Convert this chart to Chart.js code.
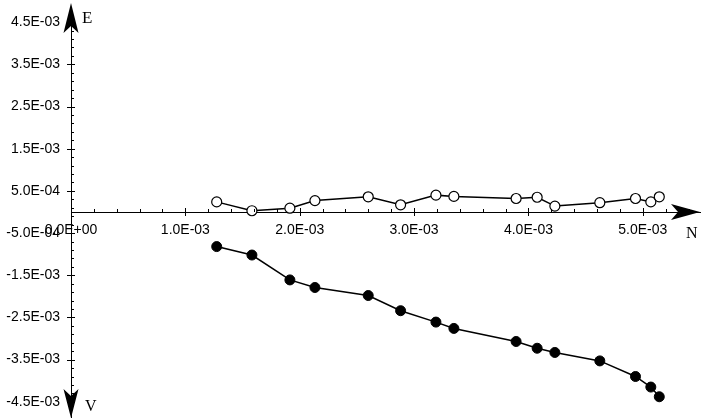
<!DOCTYPE html>
<html><head><meta charset="utf-8">
<script src="https://cdn.jsdelivr.net/npm/chart.js@4.4.1/dist/chart.umd.min.js"></script>
<style>html,body{margin:0;padding:0;background:#fff}</style>
</head><body>
<canvas id="c" width="701" height="420"></canvas>
<script>
// N values (x)
const nValues = [1.274e-3, 1.582e-3, 1.914e-3, 2.133e-3, 2.599e-3, 2.882e-3, 3.191e-3, 3.348e-3, 3.892e-3, 4.076e-3, 4.231e-3, 4.624e-3, 4.936e-3, 5.070e-3, 5.144e-3];
// E series (open circles)
const eValues = [0.24e-3, 0.03e-3, 0.09e-3, 0.27e-3, 0.36e-3, 0.17e-3, 0.40e-3, 0.37e-3, 0.32e-3, 0.35e-3, 0.14e-3, 0.22e-3, 0.32e-3, 0.24e-3, 0.36e-3];
// V series (filled circles)
const vValues = [-0.82e-3, -1.02e-3, -1.61e-3, -1.79e-3, -1.98e-3, -2.34e-3, -2.61e-3, -2.76e-3, -3.07e-3, -3.23e-3, -3.33e-3, -3.53e-3, -3.90e-3, -4.15e-3, -4.38e-3];

const xTickValues = [0, 1e-3, 2e-3, 3e-3, 4e-3, 5e-3];
const xTickLabels = ['0.0E+00', '1.0E-03', '2.0E-03', '3.0E-03', '4.0E-03', '5.0E-03'];
const yTickValues = [-4.5e-3, -3.5e-3, -2.5e-3, -1.5e-3, -0.5e-3, 0.5e-3, 1.5e-3, 2.5e-3, 3.5e-3, 4.5e-3];
const yTickLabels = ['-4.5E-03', '-3.5E-03', '-2.5E-03', '-1.5E-03', '-5.0E-04', '5.0E-04', '1.5E-03', '2.5E-03', '3.5E-03', '4.5E-03'];

const eData = nValues.map((x, i) => ({x: x, y: eValues[i]}));
const vData = nValues.map((x, i) => ({x: x, y: vValues[i]}));

const axisDecor = {
  id: 'axisDecor',
  afterDraw(chart) {
    const ctx = chart.ctx;
    const xs = chart.scales.x, ys = chart.scales.y;
    const x0 = xs.getPixelForValue(0);
    const y0 = ys.getPixelForValue(0);
    ctx.save();
    ctx.strokeStyle = '#000';
    ctx.fillStyle = '#000';
    ctx.lineWidth = 1;
    // major "+" ticks
    ctx.beginPath();
    yTickValues.forEach(v => { const p = Math.round(ys.getPixelForValue(v)) + 0.5; ctx.moveTo(x0 - 4, p); ctx.lineTo(x0 + 4, p); });
    xTickValues.forEach(v => { const p = Math.round(xs.getPixelForValue(v)) + 0.5; ctx.moveTo(p, y0 - 4); ctx.lineTo(p, y0 + 4); });
    ctx.stroke();
    // minor ticks
    ctx.beginPath();
    for (let k = 0; k <= 45; k++) {
      const v = -4.5e-3 + k * 0.2e-3;
      const p = Math.round(ys.getPixelForValue(v)) + 0.5;
      ctx.moveTo(x0, p); ctx.lineTo(x0 + 3, p);
    }
    for (let k = 1; k <= 27; k++) {
      const v = k * 0.2e-3;
      const p = Math.round(xs.getPixelForValue(v)) + 0.5;
      ctx.moveTo(p, y0 - 3); ctx.lineTo(p, y0);
    }
    ctx.stroke();
    // arrowheads
    const top = chart.chartArea.top, bottom = chart.chartArea.bottom, right = chart.chartArea.right;
    ctx.beginPath();
    ctx.moveTo(x0, top - 4); ctx.lineTo(x0 + 7.5, top + 26); ctx.lineTo(x0, top + 19); ctx.lineTo(x0 - 7.5, top + 26); ctx.closePath();
    ctx.moveTo(x0, bottom + 1); ctx.lineTo(x0 + 7.5, bottom - 28); ctx.lineTo(x0, bottom - 21); ctx.lineTo(x0 - 7.5, bottom - 28); ctx.closePath();
    ctx.moveTo(right, y0); ctx.lineTo(right - 29, y0 - 8); ctx.lineTo(right - 22, y0); ctx.lineTo(right - 29, y0 + 8); ctx.closePath();
    ctx.fill();
    // axis letters
    ctx.font = '17px "Liberation Serif", serif';
    ctx.textBaseline = 'alphabetic';
    ctx.textAlign = 'left';
    ctx.fillText('E', x0 + 11, 23);
    ctx.font = '16px "Liberation Serif", serif';
    ctx.fillText('V', x0 + 14, 411);
    ctx.fillText('N', 686, y0 + 26);
    ctx.restore();
  }
};

new Chart(document.getElementById('c'), {
  type: 'scatter',
  data: {
    datasets: [
      { label: 'E', data: eData, showLine: true, borderColor: '#000', borderWidth: 1.5,
        pointRadius: 5, pointBackgroundColor: '#fff', pointBorderColor: '#000', pointBorderWidth: 1.2, order: 1 },
      { label: 'V', data: vData, showLine: true, borderColor: '#000', borderWidth: 1.5,
        pointRadius: 5, pointBackgroundColor: '#000', pointBorderColor: '#000', pointBorderWidth: 1, order: 2 }
    ]
  },
  options: {
    responsive: false,
    animation: false,
    layout: { autoPadding: false, padding: { left: 3, right: 1, top: 7, bottom: 3 } },
    plugins: { legend: { display: false }, tooltip: { enabled: false } },
    scales: {
      x: {
        type: 'linear', min: 0, max: 5.5e-3, position: { y: 0 },
        afterBuildTicks: s => { s.ticks = xTickValues.map(v => ({ value: v })); },
        afterFit: s => { s.paddingLeft = 0; s.paddingRight = 0; s.paddingTop = 0; s.paddingBottom = 0; },
        grid: { display: false, drawTicks: false },
        border: { display: true, color: '#000', width: 1 },
        ticks: { color: '#000', padding: 10, maxRotation: 0, autoSkip: false,
          font: { family: '"Liberation Sans", Arial, sans-serif', size: 14 },
          callback: (v, i) => xTickLabels[i] }
      },
      y: {
        type: 'linear', min: -4.86e-3, max: 4.86e-3, position: 'left',
        afterBuildTicks: s => { s.ticks = yTickValues.map(v => ({ value: v })); },
        afterFit: s => { s.width = 68; s.paddingTop = 0; s.paddingBottom = 0; s.paddingLeft = 0; s.paddingRight = 0; },
        grid: { display: false, drawTicks: false },
        border: { display: true, color: '#000', width: 1 },
        ticks: { color: '#000', padding: 11, autoSkip: false,
          font: { family: '"Liberation Sans", Arial, sans-serif', size: 14 },
          callback: (v, i) => yTickLabels[i] }
      }
    }
  },
  plugins: [axisDecor]
});
</script>
</body></html>
